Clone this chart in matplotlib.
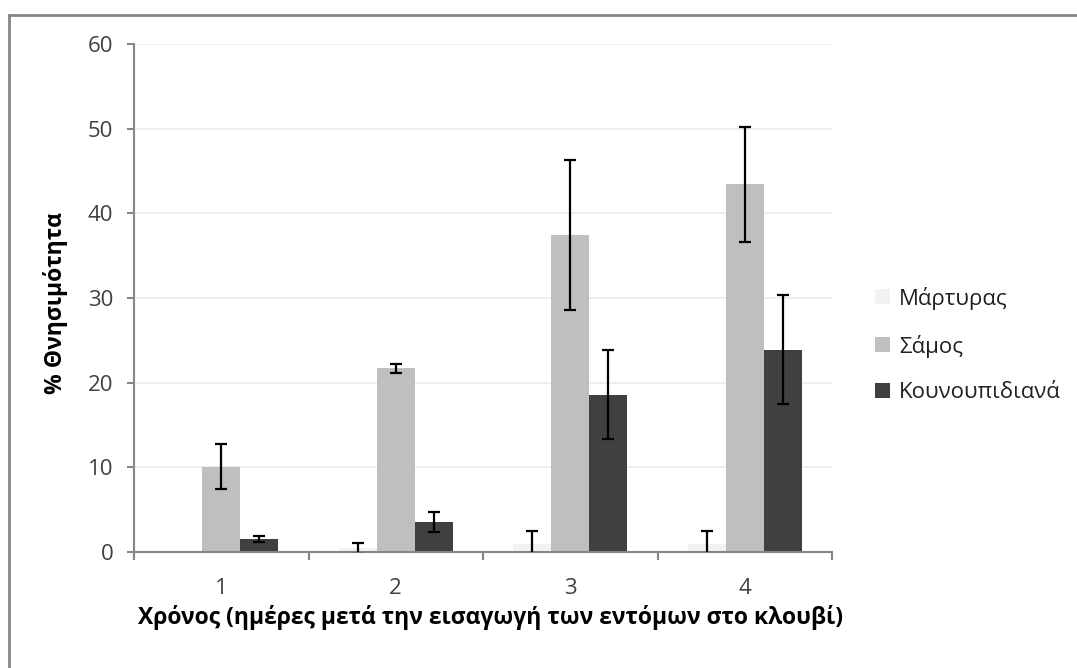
import matplotlib
matplotlib.use("Agg")
import matplotlib.pyplot as plt
from matplotlib.lines import Line2D
import numpy as np

plt.rcParams['font.family'] = ['Open Sans', 'DejaVu Sans']

categories = ['1', '2', '3', '4']
series_names = ['Μάρτυρας', 'Σάμος', 'Κουνουπιδιανά']
martyras = [0.0, 0.45, 1.0, 1.0]
martyras_err = [0.0, 0.65, 1.5, 1.5]
samos = [10.0, 21.7, 37.4, 43.5]
samos_err_low = [2.6, 0.5, 8.8, 6.9]
samos_err_high = [2.8, 0.5, 8.9, 6.7]
kounoup = [1.5, 3.5, 18.5, 23.9]
kounoup_err_low = [0.35, 1.1, 5.1, 6.4]
kounoup_err_high = [0.35, 1.2, 5.3, 6.5]
colors = ['#F2F2F2', '#BFBFBF', '#404040']
yticks = [0, 10, 20, 30, 40, 50, 60]

W, H = 1077, 668
fig = plt.figure(figsize=(W / 100, H / 100), dpi=100)
ax = fig.add_axes([134 / W, 1 - 552 / H, (832 - 134) / W, (552 - 44) / H])

x = np.arange(len(categories))
bw = 0.218
data = [(martyras, martyras_err, martyras_err),
        (samos, samos_err_low, samos_err_high),
        (kounoup, kounoup_err_low, kounoup_err_high)]
for i, (vals, lo, hi) in enumerate(data):
    pos = x + (i - 1) * bw
    ax.bar(pos, vals, width=bw, color=colors[i], zorder=2, label=series_names[i])
    lo_a = np.array(lo)
    hi_a = np.array(hi)
    mask = (lo_a + hi_a) > 0
    ax.errorbar(pos[mask], np.array(vals)[mask], yerr=[lo_a[mask], hi_a[mask]],
                fmt='none', ecolor='black', elinewidth=1.6, capsize=4,
                capthick=1.6, zorder=3)

ax.set_xlim(-0.5, 3.5)
ax.set_ylim(0, 60)
ax.set_yticks(yticks)
ax.set_yticklabels([str(v) for v in yticks], fontsize=16, color='#404040')
ax.set_xticks(x)
ax.set_xticklabels(categories, fontsize=16, color='#404040')
ax.set_xticks(np.arange(-0.5, 4.0, 1.0), minor=True)
ax.tick_params(axis='x', which='major', length=0, pad=19)
ax.tick_params(axis='x', which='minor', length=6, width=1.5, color='#868686')
ax.tick_params(axis='y', length=5, width=1.5, color='#868686', pad=10)
ax.grid(axis='y', color='#EBEBEB', linewidth=1.2, zorder=0)
ax.set_axisbelow(True)
for s in ['top', 'right']:
    ax.spines[s].set_visible(False)
for s in ['left', 'bottom']:
    ax.spines[s].set_color('#868686')
    ax.spines[s].set_linewidth(1.5)

fig.text(56 / W, 1 - 303 / H, '% Θνησιμότητα', rotation=90, ha='center', va='center',
         fontsize=16.5, fontweight='bold', color='black')
fig.text(490 / W, 1 - 617 / H, 'Χρόνος (ημέρες μετά την εισαγωγή των εντόμων στο κλουβί)',
         ha='center', va='center', fontsize=16.5, fontweight='bold', color='black')

handles, labels = ax.get_legend_handles_labels()
fig.legend(handles, labels, loc='center left', bbox_to_anchor=(875 / W, 1 - 345 / H),
           frameon=False, fontsize=16, handlelength=0.68, handleheight=0.68,
           handletextpad=0.4, labelspacing=1.12, borderpad=0, borderaxespad=0,
           labelcolor='#202020')

# outer chart border (top and left visible)
fig.add_artist(Line2D([9 / W, 9 / W], [0, 1 - 15 / H], transform=fig.transFigure,
                      color='#868686', linewidth=2))
fig.add_artist(Line2D([9 / W, 1], [1 - 15 / H, 1 - 15 / H], transform=fig.transFigure,
                      color='#868686', linewidth=2))

fig.savefig('out.png', dpi=100, facecolor='white')
